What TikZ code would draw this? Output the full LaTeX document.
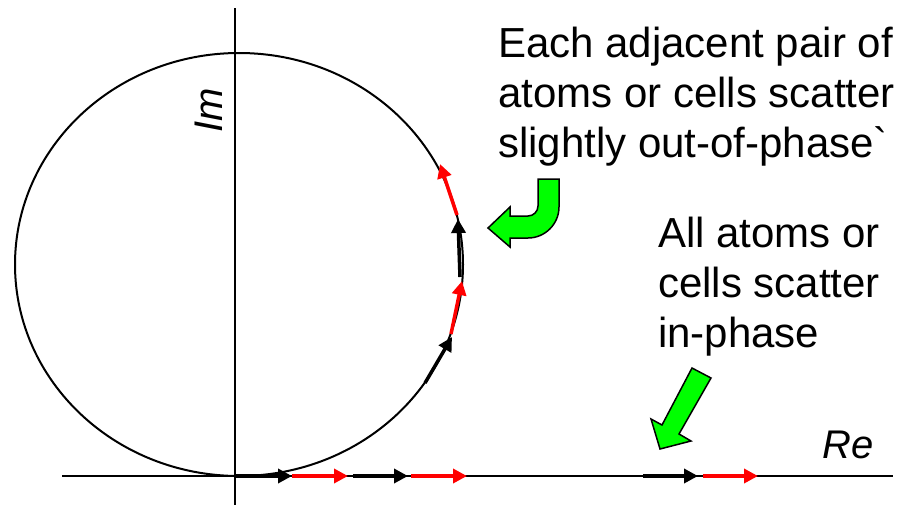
\documentclass[tikz,border=0pt]{standalone}
\usepackage{fontspec}
\setmainfont{Liberation Sans}[Ligatures=TeXOff]
\usetikzlibrary{arrows.meta}
\begin{document}
\begin{tikzpicture}[x=1pt,y=-1pt,
  vec/.style={line width=3.5pt,-{Triangle[length=14pt,width=14pt]}},
  vblack/.style={vec,draw=black},
  vred/.style={vec,draw=red},
  greenarrow/.style={fill=green,draw=black,line width=1.5pt,line join=miter},
  axis/.style={line width=2pt},
  lbl/.style={font=\fontsize{42}{50}\selectfont,inner sep=0pt,anchor=base west},
  axlbl/.style={font=\fontsize{40}{48}\selectfont\itshape,inner sep=0pt,anchor=base west}]
\useasboundingbox (0,0) rectangle (909,506);
% axes and circle
\coordinate (reL) at (62,476);
\coordinate (reR) at (893,476);
\coordinate (imT) at (235,8);
\coordinate (imB) at (235,505);
\draw[axis] (reL) -- (reR);
\draw[axis] (imT) -- (imB);
\draw[line width=2pt] (239,264.5) ellipse [x radius=224pt, y radius=211.5pt];
% phasors along Re axis
\coordinate (a0) at (236,476);
\coordinate (a1) at (292,476);
\coordinate (a2) at (348,476);
\coordinate (a3) at (353,476);
\coordinate (a4) at (408,476);
\coordinate (a5) at (411,476);
\coordinate (a6) at (467,476);
\coordinate (b0) at (643,476);
\coordinate (b1) at (698,476);
\coordinate (b2) at (703,476);
\coordinate (b3) at (758,476);
\draw[vblack] (a0) -- (a1);
\draw[vred] (a1) -- (a2);
\draw[vblack] (a3) -- (a4);
\draw[vred] (a5) -- (a6);
\draw[vblack] (b0) -- (b1);
\draw[vred] (b2) -- (b3);
% phasors along circle
\coordinate (c0) at (425,383);
\coordinate (c1) at (452,337);
\coordinate (c2) at (451,334);
\coordinate (c3) at (462,281);
\coordinate (c4) at (460,277);
\coordinate (c5) at (458,219);
\coordinate (c6) at (457,215);
\coordinate (c7) at (440,164);
\draw[vblack] (c0) -- (c1);
\draw[vred] (c2) -- (c3);
\draw[vblack] (c4) -- (c5);
\draw[vred] (c6) -- (c7);
% green arrows
\draw[greenarrow] (559,179) -- (559,207) .. controls (559,224) and (545,238) .. (528,238)
  -- (510,238) -- (510,247) -- (488,228) -- (510,207) -- (510,216) -- (528,216)
  .. controls (533.5,216) and (538,211.5) .. (538,206) -- (538,179) -- cycle;
\draw[greenarrow] (692,368) -- (711,378) -- (679,434) -- (691,441) -- (660,449)
  -- (651,419) -- (662,425) -- cycle;
% labels
\node[lbl] (t1a) at (498,57) {Each adjacent pair of};
\node[lbl] (t1b) at (498,107) {atoms or cells scatter};
\node[lbl] (t1c) at (498,157) {slightly out-of-phase`};
\node[lbl] (t2a) at (658,247) {All atoms or};
\node[lbl] (t2b) at (658,297) {cells scatter};
\node[lbl] (t2c) at (658,347) {in-phase};
\node[axlbl] (re) at (822,458) {Re};
\node[axlbl,rotate=90] (im) at (222,133) {Im};
\end{tikzpicture}
\end{document}
